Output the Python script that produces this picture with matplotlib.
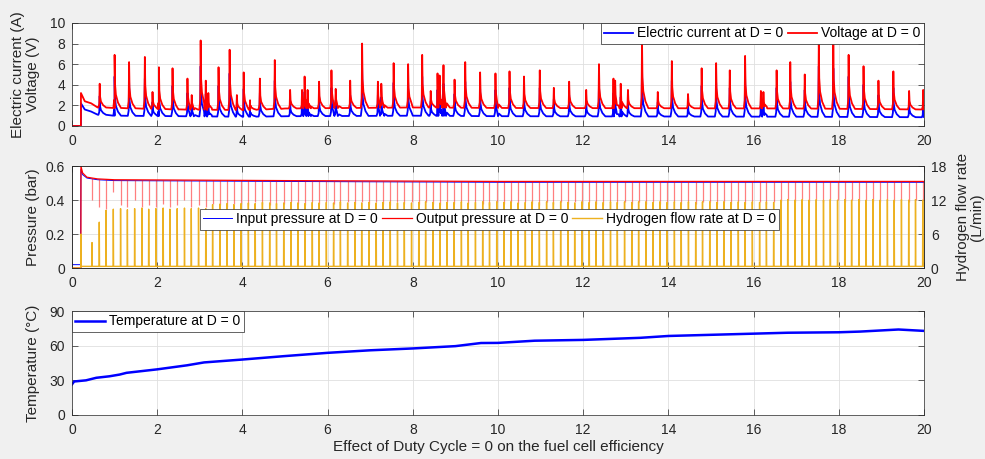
import numpy as np
import matplotlib
matplotlib.use('Agg')
import matplotlib.pyplot as plt

plt.rcParams['font.family'] = ['Liberation Sans', 'DejaVu Sans']
plt.rcParams['font.size'] = 10

# ---- top panel: electric current / voltage ----
# baseline levels between the spikes
base_t = [0.21, 0.30, 0.45, 0.60, 1.0, 2.5, 4.0, 5.0, 8.0, 10.0, 17.0, 20.0]
volt_base = [3.2, 2.4, 2.2, 1.8, 1.75, 1.6, 1.55, 1.7, 1.8, 1.75, 1.7, 1.6]
curr_base = [2.2, 1.6, 1.4, 1.1, 1.0, 0.95, 0.9, 0.95, 1.0, 0.95, 0.9, 0.85]

# spikes: time, voltage peak, current peak
spike_t = [0.65, 1.00, 1.34, 1.71, 1.89, 2.04, 2.36, 2.71, 2.81, 3.02,
           3.14, 3.20, 3.44, 3.70, 3.87, 4.03, 4.18, 4.41, 4.76, 5.12,
           5.40, 5.46, 5.53, 5.80, 6.09, 6.19, 6.53, 6.81, 7.18, 7.26,
           7.55, 7.89, 8.22, 8.42, 8.58, 8.63, 8.72, 8.98, 9.23, 9.58,
           9.94, 10.27, 10.61, 10.98, 11.31, 11.67, 12.07, 12.37, 12.71, 12.75,
           12.88, 13.05, 13.38, 13.75, 14.08, 14.46, 14.78, 15.12, 15.44, 15.80,
           16.17, 16.23, 16.54, 16.86, 17.20, 17.53, 17.87, 18.23, 18.58, 18.93,
           19.28, 19.65, 19.98]
volt_peak = [4.1, 6.9, 6.2, 6.7, 3.3, 5.7, 5.6, 4.6, 3.0, 8.3,
             4.4, 3.2, 5.7, 7.4, 3.0, 5.2, 2.5, 4.6, 6.4, 3.5,
             3.5, 4.8, 3.5, 4.3, 5.4, 3.6, 4.4, 8.0, 4.3, 4.1,
             6.1, 6.0, 6.9, 3.4, 5.1, 4.9, 5.9, 4.5, 6.2, 5.2,
             5.1, 5.3, 4.8, 5.4, 3.7, 4.3, 3.5, 6.0, 4.6, 4.4,
             4.1, 3.5, 8.4, 3.3, 6.3, 3.1, 5.6, 6.1, 5.4, 6.8,
             3.4, 3.3, 5.4, 6.2, 5.0, 8.3, 8.1, 6.9, 5.8, 4.4,
             5.3, 3.4, 3.5]
curr_peak = [2.9, 4.8, 4.3, 4.6, 2.3, 4.0, 3.9, 3.2, 2.1, 5.8,
             3.1, 2.2, 3.9, 5.1, 2.1, 3.6, 1.8, 3.2, 4.4, 2.4,
             2.4, 3.3, 2.4, 3.0, 3.7, 2.5, 3.0, 5.6, 3.0, 2.8,
             4.2, 4.2, 4.8, 2.4, 3.5, 3.4, 4.1, 3.1, 4.3, 3.6,
             3.5, 3.7, 3.3, 3.7, 2.6, 3.0, 2.4, 4.2, 3.2, 3.0,
             2.8, 2.4, 5.8, 2.3, 4.4, 2.1, 3.9, 4.2, 3.7, 4.7,
             2.4, 2.3, 3.7, 4.3, 3.5, 5.8, 5.6, 4.8, 4.0, 3.0,
             3.7, 2.4, 2.4]

# ---- middle panel: pressures and hydrogen purges ----
press_t = [0.21, 0.25, 0.35, 0.6, 1.0, 5.0, 10.0, 15.0, 20.0]
out_press = [0.60, 0.56, 0.535, 0.525, 0.52, 0.515, 0.51, 0.51, 0.51]
in_press = [0.58, 0.55, 0.53, 0.52, 0.515, 0.51, 0.505, 0.505, 0.505]

purge_t = [0.21, 0.47, 0.64, 0.80,
           0.97, 1.14, 1.30, 1.47, 1.64, 1.80,
           1.97, 2.14, 2.30, 2.47, 2.64, 2.80,
           2.97, 3.14, 3.30, 3.47, 3.64, 3.80,
           3.97, 4.14, 4.30, 4.47, 4.64, 4.80,
           4.97, 5.14, 5.30, 5.47, 5.64, 5.80,
           5.97, 6.14, 6.30, 6.47, 6.64, 6.80,
           6.97, 7.14, 7.30, 7.47, 7.64, 7.80,
           7.97, 8.14, 8.30, 8.47, 8.64, 8.80,
           8.97, 9.14, 9.30, 9.47, 9.64, 9.80,
           9.97, 10.14, 10.30, 10.47, 10.64, 10.80,
           10.97, 11.14, 11.30, 11.47, 11.64, 11.80,
           11.97, 12.14, 12.30, 12.47, 12.64, 12.80,
           12.97, 13.14, 13.30, 13.47, 13.64, 13.80,
           13.97, 14.14, 14.30, 14.47, 14.64, 14.80,
           14.97, 15.14, 15.30, 15.47, 15.64, 15.80,
           15.97, 16.14, 16.30, 16.47, 16.64, 16.80,
           16.97, 17.14, 17.30, 17.47, 17.64, 17.80,
           17.97, 18.14, 18.30, 18.47, 18.64, 18.80,
           18.97, 19.14, 19.30, 19.47, 19.64, 19.80,
           19.97]
flow_peak = [6.0, 4.5, 8.1, 10.2,
             10.4, 10.5, 10.3, 10.5, 10.6, 10.4,
             10.5, 10.6, 10.4, 10.5, 10.6, 10.5,
             10.6, 10.5, 11.2, 11.3, 11.4, 11.2,
             11.4, 11.5, 11.4, 11.6, 11.5, 11.4,
             11.5, 11.6, 11.5, 11.4, 11.6, 11.5,
             11.6, 11.5, 11.7, 11.5, 11.6, 11.5,
             11.6, 11.5, 11.6, 11.7, 11.5, 11.6,
             11.5, 11.6, 11.7, 11.6, 11.5, 11.6,
             11.6, 11.7, 11.5, 11.6, 11.7, 11.6,
             11.7, 11.6, 11.7, 11.5, 11.6, 11.7,
             11.6, 11.7, 11.6, 11.7, 11.6, 11.5,
             11.7, 11.6, 11.7, 11.6, 11.7, 11.6,
             11.7, 11.6, 11.7, 11.7, 11.6, 11.7,
             11.6, 11.7, 11.6, 11.7, 11.6, 11.7,
             11.7, 11.6, 11.7, 11.6, 11.7, 11.6,
             11.7, 11.6, 11.7, 11.6, 12.0, 12.1,
             12.0, 12.1, 12.0, 12.1, 12.0, 12.1,
             12.0, 12.1, 12.0, 12.1, 12.0, 12.1,
             12.0, 12.1, 12.0, 12.1, 12.0, 12.1,
             12.0]
red_dip = [0.60, 0.40, 0.36, 0.35,
           0.45, 0.37, 0.36, 0.40, 0.36, 0.37,
           0.36, 0.38, 0.36, 0.37, 0.40, 0.36,
           0.37, 0.36, 0.38, 0.37, 0.36, 0.38,
           0.38, 0.37, 0.39, 0.38, 0.37, 0.38,
           0.38, 0.39, 0.38, 0.37, 0.39, 0.38,
           0.39, 0.38, 0.37, 0.39, 0.38, 0.39,
           0.38, 0.39, 0.38, 0.37, 0.39, 0.38,
           0.39, 0.38, 0.39, 0.38, 0.37, 0.39,
           0.38, 0.39, 0.38, 0.39, 0.38, 0.37,
           0.39, 0.38, 0.39, 0.38, 0.39, 0.38,
           0.37, 0.39, 0.38, 0.39, 0.38, 0.39,
           0.38, 0.39, 0.38, 0.37, 0.39, 0.38,
           0.39, 0.38, 0.39, 0.38, 0.39, 0.38,
           0.38, 0.39, 0.38, 0.39, 0.38, 0.39,
           0.39, 0.38, 0.39, 0.38, 0.39, 0.38,
           0.38, 0.39, 0.38, 0.39, 0.39, 0.40,
           0.39, 0.40, 0.39, 0.40, 0.39, 0.40,
           0.40, 0.39, 0.40, 0.39, 0.40, 0.39,
           0.39, 0.40, 0.39, 0.40, 0.39, 0.40,
           0.40]
flow_base = 0.3

# ---- bottom panel: temperature ----
temp_t = [0, 0.05, 0.33, 0.57, 0.88, 1.12, 1.28, 2.0, 2.7, 3.1, 4.0, 5.0, 6.0,
          7.0, 8.0, 9.0, 9.6, 10.0, 10.86, 12.0, 13.34, 14.0, 15.0, 16.0, 16.8,
          18.0, 18.5, 19.0, 19.4, 20.0]
temp_v = [26.5, 29.0, 30.0, 32.2, 33.5, 35.0, 36.5, 39.5, 43.0, 45.5, 48.0, 51.0, 53.8,
          56.0, 57.6, 59.6, 62.3, 62.4, 64.3, 65.0, 66.8, 68.4, 69.4, 70.4, 71.2,
          71.6, 72.2, 73.2, 74.0, 72.8]

DARK = '#262626'
GRID = '#dfdfdf'


def spiky(bt, bv, st, sv, t0):
    # vertices of a spiky trace on top of a baseline
    pts = [(0.0, 0.0), (t0 - 0.001, 0.0)] + list(zip(bt, bv))
    for t, p in zip(st, sv):
        b = np.interp(t, bt, bv)
        h = p - b
        pts += [(t - 0.03, b), (t - 0.01, b + 0.15 * h), (t, p),
                (t + 0.01, b + 0.45 * h), (t + 0.03, b + 0.25 * h),
                (t + 0.08, b + 0.1 * h), (t + 0.15, b)]
    pts.sort()
    return np.array(pts).T


def style(ax, right=True):
    ax.set_xlim(0, 20)
    ax.set_xticks(range(0, 21, 2))
    ax.grid(True, color=GRID, linewidth=0.6)
    ax.set_axisbelow(True)
    ax.tick_params(direction='in', length=4, width=0.5, colors=DARK,
                   labelsize=10, top=True, right=right)
    ax.tick_params(axis='x', pad=6)
    ax.tick_params(axis='y', pad=5)
    for s in ax.spines.values():
        s.set_color(DARK)
        s.set_linewidth(0.5)


fig = plt.figure(figsize=(9.85, 4.59), dpi=100, facecolor='#f0f0f0')
L, W = 0.0731, 0.865
ax1 = fig.add_axes([L, 0.7255, W, 0.2245])
ax2 = fig.add_axes([L, 0.416, W, 0.222])
ax3 = fig.add_axes([L, 0.0959, W, 0.2265])

# top
ct, cv = spiky(base_t, curr_base, spike_t, curr_peak, 0.21)
vt, vv = spiky(base_t, volt_base, spike_t, volt_peak, 0.21)
ax1.plot(ct, cv, color='#0000ff', linewidth=1.3, label='Electric current at D = 0')
ax1.plot(vt, vv, color='#ff0000', linewidth=1.3, label='Voltage at D = 0')
style(ax1)
ax1.set_ylim(0, 10)
ax1.set_yticks(range(0, 11, 2))
ax1.set_ylabel('Electric current (A)\nVoltage (V)', color=DARK, fontsize=11, linespacing=1.05)
ax1.yaxis.set_label_coords(-0.038, 0.5)
leg1 = ax1.legend(loc='upper right', ncol=2, borderaxespad=0, fancybox=False,
                  framealpha=1, edgecolor=DARK, handlelength=2.1, handletextpad=0.3,
                  columnspacing=0.3, borderpad=0.25, fontsize=10)
leg1.get_frame().set_linewidth(0.5)

# middle
ip = [(0.0, 0.02), (0.2, 0.02)] + list(zip(press_t, in_press))
ip = np.array(ip).T
op = np.array([(0.0, 0.0), (0.209, 0.0)] + list(zip(press_t, out_press))).T
ax2.plot(ip[0], ip[1], color='#0000ff', linewidth=0.7, label='Input pressure at D = 0')
ax2.plot(op[0], op[1], color='#ff0000', linewidth=0.9, label='Output pressure at D = 0')
# purge dips of the output pressure
dip_t = purge_t[1:]
ax2.vlines(dip_t, red_dip[1:], np.interp(dip_t, press_t, out_press),
           color='#ff0000', linewidth=0.9, alpha=0.5)
style(ax2, right=False)
ax2.set_ylim(0, 0.6)
ax2.set_yticks([0, 0.2, 0.4, 0.6])
ax2.set_yticklabels(['0', '0.2', '0.4', '0.6'])
ax2.set_ylabel('Pressure (bar)', color=DARK, fontsize=11)
ax2.yaxis.set_label_coords(-0.038, 0.5)

ax2r = ax2.twinx()
fl = [(0.0, 0.0), (0.2, 0.0), (0.205, flow_base), (20.0, flow_base)]
for t, p in zip(purge_t, flow_peak):
    fl += [(t - 0.004, flow_base), (t, p), (t + 0.006, flow_base)]
fl.sort()
fl = np.array(fl).T
ax2r.plot(fl[0], fl[1], color='#EDB120', linewidth=1.0, alpha=0.75,
          label='Hydrogen flow rate at D = 0')
ax2r.set_ylim(0, 18)
ax2r.set_yticks([0, 6, 12, 18])
ax2r.tick_params(direction='in', length=4, width=0.5, colors=DARK, labelsize=10, pad=5)
for s in ax2r.spines.values():
    s.set_color(DARK)
    s.set_linewidth(0.5)
ax2r.set_ylabel('Hydrogen flow rate\n(L/min)', color=DARK, fontsize=11,
                rotation=90, linespacing=1.0)
ax2r.yaxis.set_label_coords(1.037, 0.5)
h1, l1 = ax2.get_legend_handles_labels()
h2, l2 = ax2r.get_legend_handles_labels()
h2[0].set_alpha(1)
leg2 = ax2r.legend(h1 + h2, l1 + l2, loc='center', bbox_to_anchor=(0.49, 0.48), ncol=3,
                   fancybox=False, framealpha=1, edgecolor=DARK, handlelength=2.1,
                   handletextpad=0.3, columnspacing=0.3, borderpad=0.25, fontsize=10)
leg2.get_frame().set_linewidth(0.5)

# bottom
ax3.plot(temp_t, temp_v, color='#0000ff', linewidth=1.8, label='Temperature at D = 0')
style(ax3)
ax3.set_ylim(0, 90)
ax3.set_yticks([0, 30, 60, 90])
ax3.set_ylabel('Temperature (°C)', color=DARK, fontsize=11)
ax3.yaxis.set_label_coords(-0.038, 0.5)
ax3.set_xlabel('Effect of Duty Cycle = 0 on the fuel cell efficiency', color=DARK,
               fontsize=11, labelpad=2)
leg3 = ax3.legend(loc='upper left', borderaxespad=0, fancybox=False, framealpha=1,
                  edgecolor=DARK, handlelength=2.1, handletextpad=0.3, borderpad=0.25,
                  fontsize=10)
leg3.get_frame().set_linewidth(0.5)

fig.savefig('out.png', dpi=100, facecolor=fig.get_facecolor())
